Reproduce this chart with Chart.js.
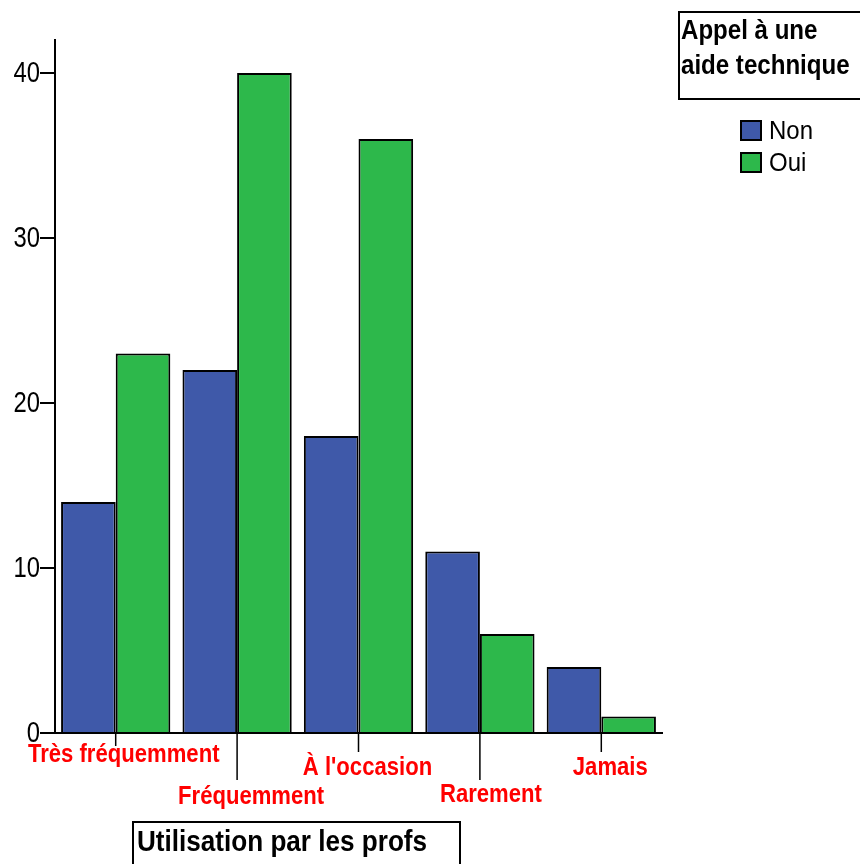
<!DOCTYPE html>
<html>
<head>
<meta charset="utf-8">
<script src="https://cdn.jsdelivr.net/npm/chart.js@4/dist/chart.umd.min.js"></script>
<style>
html,body{margin:0;padding:0;background:#fff;}
#wrap{width:860px;height:864px;position:relative;}
</style>
</head>
<body>
<div id="wrap"><canvas id="chart" width="860" height="864"></canvas></div>
<script>
'use strict';
var categories = ['Très fréquemment', 'Fréquemment', "À l'occasion", 'Rarement', 'Jamais'];
var nonValues = [14, 22, 18, 11, 4];
var ouiValues = [23, 40, 36, 6, 1];
var yTicks = [0, 10, 20, 30, 40];
var seriesNames = ['Non', 'Oui'];
var legendTitle = ['Appel à une', 'aide technique'];
var axisTitle = 'Utilisation par les profs';

var FONT = "'Liberation Sans',Arial,sans-serif";
var BLUE = '#3f59a9', GREEN = '#2db84b';

// staggered category labels: tick end y, label offset / center y
var labelRows = [
    { tickEnd: 746, dx: 8,  y: 755 },
    { tickEnd: 780, dx: 14, y: 797 },
    { tickEnd: 752, dx: 9,  y: 768 },
    { tickEnd: 780, dx: 11, y: 795 },
    { tickEnd: 752, dx: 9,  y: 768 }
];

// text squeezed horizontally (the original uses a narrow face)
function squeezed(ctx, text, x, y, font, sx, align) {
    ctx.save();
    ctx.font = font;
    ctx.textAlign = align || 'left';
    ctx.textBaseline = 'middle';
    ctx.translate(x, y);
    ctx.scale(sx, 1);
    ctx.fillText(text, 0, 0);
    ctx.restore();
}

var decor = {
    id: 'decor',
    afterDraw: function(chart) {
        var ctx = chart.ctx, x = chart.scales.x, y = chart.scales.y;
        var y0 = y.getPixelForValue(0);
        ctx.save();
        // y tick labels
        ctx.fillStyle = '#000';
        yTicks.forEach(function(v) {
            squeezed(ctx, String(v), 40, y.getPixelForValue(v) + 1, '29px ' + FONT, 0.82, 'right');
        });
        // x ticks + labels
        ctx.strokeStyle = '#000';
        ctx.lineWidth = 1.5;
        categories.forEach(function(c, i) {
            var px = x.getPixelForValue(i);
            ctx.beginPath();
            ctx.moveTo(px, y0);
            ctx.lineTo(px, labelRows[i].tickEnd);
            ctx.stroke();
        });
        ctx.fillStyle = '#ff0000';
        categories.forEach(function(c, i) {
            squeezed(ctx, c, x.getPixelForValue(i) + labelRows[i].dx, labelRows[i].y, 'bold 26px ' + FONT, 0.85, 'center');
        });

        // axis title box
        ctx.lineWidth = 2;
        ctx.strokeRect(133, 822, 327, 60);
        ctx.fillStyle = '#000';
        squeezed(ctx, axisTitle, 137, 843, 'bold 30px ' + FONT, 0.87);

        // legend title box
        ctx.strokeRect(679, 12, 200, 87);
        squeezed(ctx, legendTitle[0], 681, 31, 'bold 28px ' + FONT, 0.86);
        squeezed(ctx, legendTitle[1], 681, 66, 'bold 28px ' + FONT, 0.86);

        // legend items
        var cols = [BLUE, GREEN];
        seriesNames.forEach(function(n, i) {
            var top = 121 + i * 32;
            ctx.fillStyle = cols[i];
            ctx.fillRect(741, top, 20, 19);
            ctx.strokeRect(741, top, 20, 19);
            ctx.fillStyle = '#000';
            squeezed(ctx, n, 769, top + 11, '25px ' + FONT, 0.96);
        });
        ctx.restore();
    }
};

new Chart(document.getElementById('chart'), {
    type: 'bar',
    data: {
        labels: categories,
        datasets: [
            { label: seriesNames[0], data: nonValues, backgroundColor: BLUE, borderColor: '#000', borderWidth: 2 },
            { label: seriesNames[1], data: ouiValues, backgroundColor: GREEN, borderColor: '#000', borderWidth: 2 }
        ]
    },
    options: {
        responsive: false,
        animation: false,
        layout: { padding: { left: 0, right: 198, top: 40, bottom: 131 } },
        plugins: { legend: { display: false }, tooltip: { enabled: false } },
        datasets: { bar: { categoryPercentage: 0.9, barPercentage: 1.0 } },
        scales: {
            x: {
                grid: { display: false },
                ticks: { display: false },
                border: { display: true, color: '#000', width: 2 },
                afterFit: function(s) { s.height = 0; }
            },
            y: {
                min: 0, max: 42,
                afterBuildTicks: function(s) { s.ticks = yTicks.map(function(v) { return { value: v }; }); },
                grid: { drawOnChartArea: false, drawTicks: true, tickLength: 15, color: '#000', lineWidth: 2 },
                border: { display: true, color: '#000', width: 2 },
                ticks: { display: false },
                afterFit: function(s) { s.width = 55; }
            }
        }
    },
    plugins: [decor]
});
</script>
</body>
</html>
